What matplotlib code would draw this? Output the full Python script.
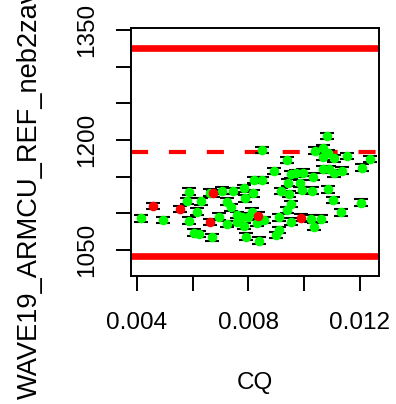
import matplotlib
matplotlib.use("Agg")
import matplotlib.pyplot as plt

plt.rcParams['font.family'] = ['Liberation Sans', 'DejaVu Sans']

# green points (CQ, value)
cq_green = [0.00414, 0.00495, 0.00589, 0.00579, 0.00617, 0.00631, 0.00589, 0.00606,
            0.00622, 0.00669, 0.00695, 0.00707, 0.00664, 0.00725, 0.00738, 0.00746,
            0.00786, 0.00822, 0.00850, 0.00816, 0.00788, 0.00761, 0.00725, 0.00758,
            0.00785, 0.00800, 0.00812, 0.00857, 0.00832, 0.00792, 0.00839, 0.00848,
            0.00892, 0.00909, 0.00899, 0.00910, 0.00953, 0.00940, 0.00952, 0.00916,
            0.00946, 0.00943, 0.00953, 0.00971, 0.00997, 0.00985, 0.00991, 0.01029,
            0.01033, 0.00940, 0.01026, 0.01037, 0.01061, 0.01086, 0.01105, 0.01133,
            0.01067, 0.01090, 0.01108, 0.01136, 0.01108, 0.01153, 0.01067, 0.01067,
            0.01040, 0.01083, 0.01208, 0.01237, 0.01205, 0.01087, 0.00776]
val_green = [1093.2, 1090.9, 1129.5, 1116.8, 1102.2, 1116.4, 1090.0, 1073.6,
             1071.8, 1067.3, 1095.4, 1130.9, 1128.1, 1115.9, 1108.2, 1130.5,
             1134.1, 1145.5, 1145.5, 1127.3, 1120.5, 1097.7, 1085.5, 1088.6,
             1082.7, 1095.4, 1102.2, 1090.9, 1087.2, 1068.1, 1062.7, 1186.4,
             1157.7, 1094.6, 1070.5, 1077.3, 1088.6, 1104.5, 1112.7, 1130.5,
             1126.4, 1141.8, 1153.2, 1154.6, 1155.4, 1141.0, 1131.8, 1130.9,
             1150.0, 1172.7, 1092.7, 1081.8, 1092.7, 1132.8, 1118.2, 1101.4,
             1160.0, 1160.0, 1154.6, 1158.1, 1175.0, 1178.2, 1177.2, 1188.7,
             1185.4, 1205.5, 1162.2, 1174.1, 1114.5, 1181.9, 1095.4]

# red points
cq_red = [0.00460, 0.00554, 0.00672, 0.00663, 0.00835, 0.00988]
val_red = [1110.0, 1105.9, 1127.3, 1088.2, 1096.8, 1094.0]

err = 4.5
upper_ref = 1325.5
lower_ref = 1041.8
mid_ref = 1183.2

fig = plt.figure(figsize=(3.96, 4.04), dpi=100)
ax = fig.add_axes([131/396, 128/404, 248/396, 248/404])

ax.axhline(upper_ref, color='#ff0000', lw=4.8, zorder=1)
ax.axhline(lower_ref, color='#ff0000', lw=4.8, zorder=1)
ax.axhline(mid_ref, color='#ff0000', lw=3.0, dashes=(4.1, 5.0), dash_capstyle='butt', zorder=1)

ax.errorbar(cq_green + cq_red, val_green + val_red, yerr=err, fmt='none', ecolor='black',
            elinewidth=1.5, capthick=1.5, capsize=4.8, zorder=2)
ax.plot(cq_green, val_green, 'o', color='#00ff00', ms=6.9, mec='none', zorder=3)
ax.plot(cq_red, val_red, 'o', color='#ff0000', ms=6.9, mec='none', zorder=4)

ax.set_xlim(0.003796, 0.012681)
ax.set_ylim(1014.5, 1352.7)

ax.set_xticks([0.004, 0.006, 0.008, 0.010, 0.012])
ax.set_xticklabels(['0.004', '', '0.008', '', '0.012'])
ax.set_yticks([1050, 1100, 1150, 1200, 1250, 1300, 1350])
ax.set_yticklabels(['1050', '', '', '1200', '', '', '1350'], rotation=90, va='center')

ax.tick_params(axis='both', length=11, width=1.4, labelsize=17.5, color='black')
ax.tick_params(axis='x', pad=15)
ax.tick_params(axis='y', pad=13)
for s in ax.spines.values():
    s.set_linewidth(1.4)

fig.text(255/396, 1 - 383/404, "CQ", ha='center', va='center', fontsize=17.5)
fig.text(30/396, 5/404, "WAVE19_ARMCU_REF_neb2zave_mean", rotation=90,
         ha='center', va='bottom', fontsize=19.6)

fig.savefig("out.png", dpi=100)
